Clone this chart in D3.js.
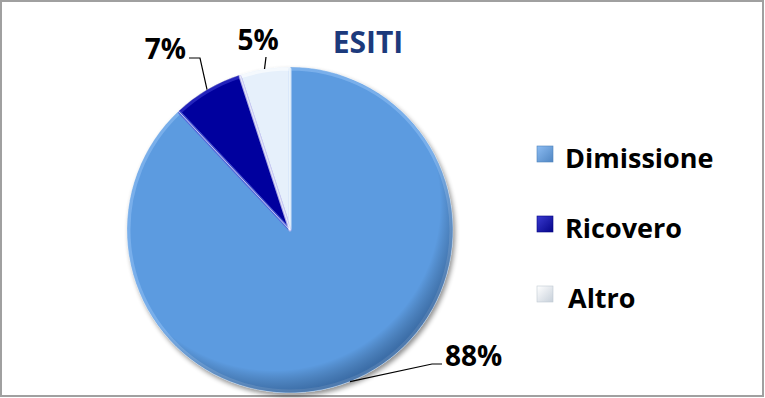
<!DOCTYPE html>
<html>
<head>
<meta charset="utf-8">
<script src="https://cdn.jsdelivr.net/npm/d3@7"></script>
<style>
  body { margin: 0; background: #fff; }
  svg { display: block; font-family: "Open Sans", sans-serif; }
</style>
</head>
<body>
<svg id="chart" width="765" height="398"></svg>
<script>
// data
var categories = ["Dimissione", "Ricovero", "Altro"];
var values = [88, 7, 5];
var pctLabels = ["88%", "7%", "5%"];
var title = "ESITI";

var colors = ["#5c9be0", "#06069e", "#e6f0fb"];
var lightColors = ["#8cbcf2", "#3a3ad0", "#ffffff"];

var svg = d3.select("#chart"),
    width = +svg.attr("width"),
    height = +svg.attr("height");

// frame
svg.append("rect")
    .attr("x", 1).attr("y", 1)
    .attr("width", width - 3).attr("height", height - 3)
    .attr("fill", "#fff")
    .attr("stroke", "#a0a0a0")
    .attr("stroke-width", 2);

var defs = svg.append("defs");

var shadow = defs.append("filter").attr("id", "shadow")
    .attr("x", "-10%").attr("y", "-10%").attr("width", "125%").attr("height", "125%");
shadow.append("feGaussianBlur").attr("in", "SourceAlpha").attr("stdDeviation", 2.5);
shadow.append("feOffset").attr("dx", 2).attr("dy", 3).attr("result", "off");
shadow.append("feComponentTransfer").append("feFuncA").attr("type", "linear").attr("slope", 0.45);
var merge = shadow.append("feMerge");
merge.append("feMergeNode");
merge.append("feMergeNode").attr("in", "SourceGraphic");

colors.forEach(function (c, i) {
    var g = defs.append("linearGradient").attr("id", "leg" + i)
        .attr("x1", 0).attr("y1", 0).attr("x2", 1).attr("y2", 1);
    g.append("stop").attr("offset", "0%").attr("stop-color", lightColors[i]);
    g.append("stop").attr("offset", "100%").attr("stop-color", d3.color(c).darker(0.4));
});

// rim shading: darker toward bottom-right edge
var rim = defs.append("radialGradient").attr("id", "rim")
    .attr("cx", "45%").attr("cy", "42%").attr("r", "58%");
rim.append("stop").attr("offset", "88%").attr("stop-color", "#000").attr("stop-opacity", 0);
rim.append("stop").attr("offset", "100%").attr("stop-color", "#001a40").attr("stop-opacity", 0.35);

var cx = 290, cy = 230, r = 163;

var pie = d3.pie().sort(null).value(function (d) { return d; });
var arcs = pie(values);
var arc = d3.arc().innerRadius(0).outerRadius(r);
var bevel = d3.arc().innerRadius(0).outerRadius(r - 2);

var g = svg.append("g").attr("transform", "translate(" + cx + "," + cy + ")");

var slices = g.append("g").attr("filter", "url(#shadow)");
slices.selectAll("path.slice")
    .data(arcs)
    .enter().append("path")
    .attr("class", "slice")
    .attr("d", arc)
    .attr("fill", function (d, i) { return colors[i]; });

// bevel highlight along slice edges
g.selectAll("path.bevel")
    .data(arcs)
    .enter().append("path")
    .attr("class", "bevel")
    .attr("d", bevel)
    .attr("fill", "none")
    .attr("stroke", function (d, i) { return lightColors[i]; })
    .attr("stroke-opacity", 0.6)
    .attr("stroke-width", 3)
    .attr("stroke-linejoin", "round");

g.append("circle").attr("r", r).attr("fill", "url(#rim)");

// thin separators
g.selectAll("path.sep")
    .data(arcs)
    .enter().append("path")
    .attr("class", "sep")
    .attr("d", arc)
    .attr("fill", "none")
    .attr("stroke", "#ffffff")
    .attr("stroke-opacity", 0.5)
    .attr("stroke-width", 0.8);

// labels with leader lines (start on the rim at each slice's mid-angle)
var labelLayout = [
    { elbow: [432, 364], end: [442, 364], text: [445, 366], anchor: "start" },
    { elbow: [200, 58], end: [189, 58], text: [186, 59], anchor: "end" },
    { elbow: [266, 57], end: [266, 57], text: [258, 50], anchor: "middle" }
];

arcs.forEach(function (d, i) {
    var a = (d.startAngle + d.endAngle) / 2;
    var sx = cx + r * Math.sin(a), sy = cy - r * Math.cos(a);
    var L = labelLayout[i];
    svg.append("polyline")
        .attr("points", [[sx, sy], L.elbow, L.end].map(function (p) { return p.join(","); }).join(" "))
        .attr("fill", "none")
        .attr("stroke", "#000")
        .attr("stroke-width", 1.2);
    svg.append("text")
        .attr("x", L.text[0]).attr("y", L.text[1])
        .attr("text-anchor", L.anchor)
        .attr("font-size", 28)
        .attr("font-weight", 700)
        .attr("fill", "#000")
        .text(pctLabels[i]);
});

svg.append("text")
    .attr("x", 368).attr("y", 53)
    .attr("text-anchor", "middle")
    .attr("font-size", 30)
    .attr("font-weight", 700)
    .attr("fill", "#1c3a7c")
    .text(title);

// legend
var legendY = d3.scalePoint().domain(categories).range([168, 308]);
var legend = svg.append("g");
var items = legend.selectAll("g")
    .data(categories)
    .enter().append("g")
    .attr("transform", function (d) { return "translate(0," + legendY(d) + ")"; });

items.append("rect")
    .attr("x", 537).attr("y", -22)
    .attr("width", 16).attr("height", 16)
    .attr("fill", function (d, i) { return "url(#leg" + i + ")"; })
    .attr("stroke", function (d, i) { return d3.color(colors[i]).darker(0.5); })
    .attr("stroke-width", 0.6);

items.append("text")
    .attr("x", function (d, i) { return i === 2 ? 568 : 565; })
    .attr("y", 0)
    .attr("font-size", 27)
    .attr("font-weight", 700)
    .attr("fill", "#000")
    .text(function (d) { return d; });
</script>
</body>
</html>
